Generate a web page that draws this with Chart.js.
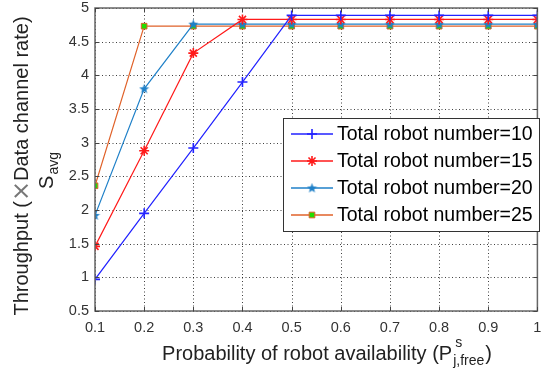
<!DOCTYPE html>
<html><head><meta charset="utf-8">
<script src="https://cdn.jsdelivr.net/npm/chart.js@4/dist/chart.umd.min.js"></script>
<style>html,body{margin:0;padding:0;background:#fff}#wrap{width:544px;height:372px}</style>
</head><body><div id="wrap"><canvas id="c" width="544" height="372"></canvas></div>
<script>
const xValues = [0.1,0.2,0.3,0.4,0.5,0.6,0.7,0.8,0.9,1.0];
const xTickLabels = ['0.1','0.2','0.3','0.4','0.5','0.6','0.7','0.8','0.9','1'];
const yTickLabels = ['0.5','1','1.5','2','2.5','3','3.5','4','4.5','5'];
const seriesNames = ['Total robot number=10','Total robot number=15','Total robot number=20','Total robot number=25'];
const s10 = [0.97,1.95,2.92,3.90,4.89,4.89,4.89,4.89,4.89,4.89];
const s15 = [1.46,2.88,4.33,4.83,4.83,4.83,4.83,4.83,4.83,4.83];
const s20 = [1.92,3.80,4.76,4.76,4.76,4.76,4.76,4.76,4.76,4.76];
const s25 = [2.36,4.73,4.73,4.73,4.73,4.73,4.73,4.73,4.73,4.73];

function pentagram(color){
  const c=document.createElement('canvas');c.width=11;c.height=11;
  const g=c.getContext('2d');g.fillStyle=color;g.beginPath();
  for(let i=0;i<10;i++){const r=i%2?2.2:5.3;const a=-Math.PI/2+i*Math.PI/5;
    const px=5.5+r*Math.cos(a),py=5.8+r*Math.sin(a);i?g.lineTo(px,py):g.moveTo(px,py);}
  g.closePath();g.fill();return c;
}
const FONT='"Liberation Sans", Arial, sans-serif';
const colors=['#2222ff','#ff1a1a','#1f80c8','#e0622a'];
const pstyles=['cross','star',pentagram('#1f80c8'),'rect'];
const pbg=['#2222ff','#ff1a1a','#1f80c8','#22dd00'];
const all=[s10,s15,s20,s25];

const datasets=all.map((s,i)=>({label:seriesNames[i],data:s.map((v,k)=>({x:xValues[k],y:v})),
  borderColor:colors[i],backgroundColor:pbg[i],borderWidth:1.2,pointStyle:pstyles[i],
  pointRadius:i===3?4:5,pointBorderColor:i===3?'#e0622a':colors[i],pointBorderWidth:i===3?1:1.6,tension:0}));

const gridPlug={id:'gridPlug',
 beforeDatasetsDraw(ch){
  const g=ch.ctx,a=ch.chartArea,xs=ch.scales.x,ys=ch.scales.y;
  g.save();g.strokeStyle='rgba(0,0,0,0.75)';g.lineWidth=1;g.setLineDash([1,2.5]);
  xValues.forEach(v=>{const p=Math.round(xs.getPixelForValue(v))+0.5;
    g.beginPath();g.moveTo(p,a.top);g.lineTo(p,a.bottom);g.stroke();});
  yTickLabels.forEach(t=>{const p=Math.round(ys.getPixelForValue(parseFloat(t)))+0.5;
    g.beginPath();g.moveTo(a.left,p);g.lineTo(a.right,p);g.stroke();});
  g.restore();
 }};

const deco={id:'deco',
 afterDraw(ch){
  const g=ch.ctx,a=ch.chartArea,xs=ch.scales.x,ys=ch.scales.y;
  g.save();
  g.strokeStyle='#666';g.lineWidth=1.5;g.strokeRect(a.left,a.top,a.right-a.left,a.bottom-a.top);
  g.strokeStyle='#444';g.lineWidth=1;
  xValues.forEach(v=>{const p=Math.round(xs.getPixelForValue(v))+0.5;
    g.beginPath();g.moveTo(p,a.bottom);g.lineTo(p,a.bottom-4);g.moveTo(p,a.top);g.lineTo(p,a.top+4);g.stroke();});
  yTickLabels.forEach(t=>{const p=Math.round(ys.getPixelForValue(parseFloat(t)))+0.5;
    g.beginPath();g.moveTo(a.left,p);g.lineTo(a.left+4,p);g.moveTo(a.right,p);g.lineTo(a.right-4,p);g.stroke();});
  // legend
  const lx=283,ly=118,lw=256,lh=113;
  g.fillStyle='#fff';g.fillRect(lx,ly,lw,lh);
  g.strokeStyle='#333';g.lineWidth=1;g.strokeRect(lx+0.5,ly+0.5,lw,lh);
  const rows=[134,161,188,215];
  ch.data.datasets.forEach((d,i)=>{
    const y=rows[i];
    g.strokeStyle=d.borderColor;g.lineWidth=1.5;g.beginPath();g.moveTo(291,y);g.lineTo(333,y);g.stroke();
    g.fillStyle=d.backgroundColor;g.strokeStyle=d.pointBorderColor;g.lineWidth=d.pointBorderWidth;
    Chart.helpers.drawPoint(g,{pointStyle:d.pointStyle,radius:d.pointRadius,borderWidth:d.pointBorderWidth},312,y);
    g.fillStyle='#000';g.font='19.5px '+FONT;g.textBaseline='middle';g.textAlign='left';
    g.fillText(d.label,337,y+1);
  });
  // x title
  g.fillStyle='#222';g.textBaseline='alphabetic';g.textAlign='left';
  const by=360,t1='Probability of robot availability (P';
  g.font='20px '+FONT;const w1=g.measureText(t1).width,wp=g.measureText(')').width;
  g.font='14px '+FONT;const ws=g.measureText('j,free').width;
  let x=327-(w1+ws+wp+2)/2;
  g.font='20px '+FONT;g.fillText(t1,x,by);x+=w1+1;
  g.font='14px '+FONT;g.fillText('s',x+2,by-13);g.fillText('j,free',x,by+5);x+=ws+1;
  g.font='20px '+FONT;g.fillText(')',x,by);
  // y title (pieces so the multiplication sign is lighter and larger)
  g.save();g.translate(28,166);g.rotate(-Math.PI/2);g.textAlign='left';
  const pa='Throughput (',pb='\u00D7',pc='Data channel rate)';
  g.font='20px '+FONT;const wa=g.measureText(pa).width,wc=g.measureText(pc).width;
  g.font='24px "DejaVu Sans", sans-serif';const wb=g.measureText(pb).width;
  let tx=-(wa+wb+wc)/2;
  g.fillStyle='#222';g.font='20px '+FONT;g.fillText(pa,tx,0);tx+=wa;
  g.fillStyle='#777';g.font='24px "DejaVu Sans", sans-serif';g.fillText(pb,tx,1);tx+=wb;
  g.fillStyle='#222';g.font='20px '+FONT;g.fillText(pc,tx,0);
  g.restore();
  g.save();g.translate(53,171);g.rotate(-Math.PI/2);g.textAlign='left';g.fillStyle='#222';
  g.font='20px '+FONT;const sw=g.measureText('S').width;g.font='14px '+FONT;const aw=g.measureText('avg').width;
  const sx=-(sw+aw)/2;g.font='20px '+FONT;g.fillText('S',sx,0);g.font='14px '+FONT;g.fillText('avg',sx+sw+1,5);
  g.restore();
  g.restore();
 }};

new Chart(document.getElementById('c'),{type:'line',data:{datasets},
 options:{responsive:false,animation:false,devicePixelRatio:1,
  layout:{padding:{top:8,right:2,left:0,bottom:0}},
  plugins:{legend:{display:false},tooltip:{enabled:false}},
  scales:{
   x:{type:'linear',min:0.1,max:1.0,
      ticks:{stepSize:0.1,color:'#333',font:{family:FONT,size:14.5},padding:8,
        callback:(v)=>{const i=Math.round(v*10)-1;return xTickLabels[i]??'';}},
      grid:{display:false,drawTicks:false},border:{display:false},
      afterFit(s){s.height=61;s.paddingLeft=0;s.paddingRight=0;}},
   y:{type:'linear',min:0.5,max:5,
      ticks:{stepSize:0.5,color:'#333',font:{family:FONT,size:14.5},padding:6,
        callback:(v)=>{const i=Math.round(v*2)-1;return yTickLabels[i]??'';}},
      grid:{display:false,drawTicks:false},border:{display:false},
      afterFit(s){s.width=95;s.paddingTop=0;s.paddingBottom=0;}}
  }},plugins:[gridPlug,deco]});
</script></body></html>
